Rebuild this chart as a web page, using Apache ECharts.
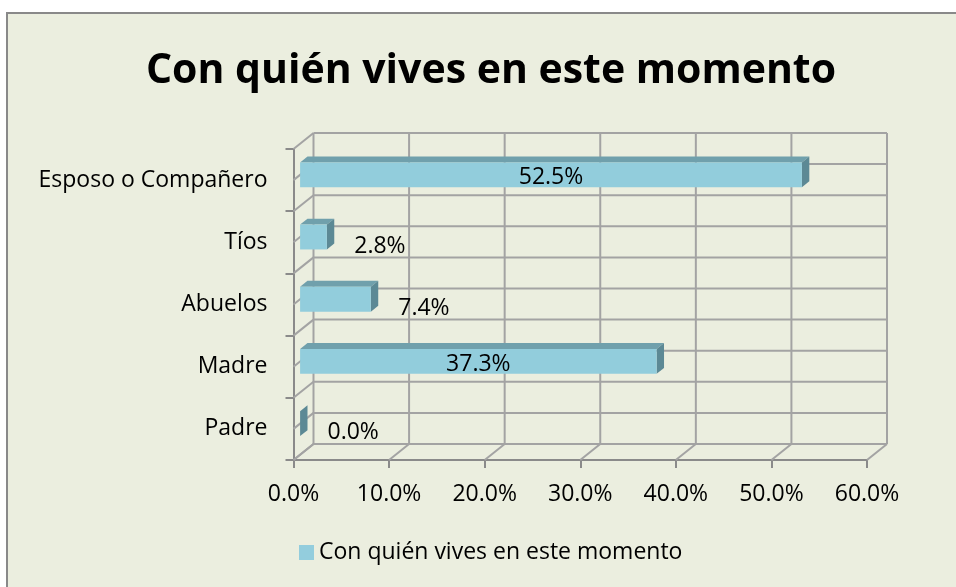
<!DOCTYPE html>
<html><head><meta charset="utf-8">
<script src="https://cdn.jsdelivr.net/npm/echarts@6/dist/echarts.min.js"></script>
<style>html,body{margin:0;padding:0;background:#fff}#c{width:956px;height:587px}</style>
</head><body><div id="c"></div>
<script>
const titleText = 'Con quién vives en este momento';
const seriesName = 'Con quién vives en este momento';
const categories = ['Esposo o Compañero', 'Tíos', 'Abuelos', 'Madre', 'Padre'];
const values = [52.5, 2.8, 7.4, 37.3, 0.0];
const valueTicks = [0, 10, 20, 30, 40, 50, 60];

const FONT = '"Open Sans", "Noto Sans", sans-serif';
const DEPTH = [20, -16];
const F1 = 0.33, F2 = 0.7;
const GRID_COLOR = '#A3A3A3';
const AXIS_COLOR = '#8A8A8A';

const chart = echarts.init(document.getElementById('c'), null, {renderer: 'canvas'});

function frameRender(params, api) {
  const band = api.size([0, 1])[1];
  const topY = api.coord([0, 0])[1] - band / 2;
  const x0 = api.coord([valueTicks[0], 0])[0];
  const x1 = api.coord([valueTicks[valueTicks.length - 1], 0])[0];
  const n = categories.length * 2;
  const children = [];
  const ls = {stroke: GRID_COLOR, lineWidth: 2};
  for (let k = 0; k <= n; k++) {
    const y = topY + k * band / 2;
    children.push({type: 'line', shape: {x1: x0 + DEPTH[0], y1: y + DEPTH[1], x2: x1 + DEPTH[0], y2: y + DEPTH[1]}, style: ls});
    children.push({type: 'line', shape: {x1: x0, y1: y, x2: x0 + DEPTH[0], y2: y + DEPTH[1]}, style: ls});
  }
  const botY = topY + n * band / 2;
  valueTicks.forEach(t => {
    const x = api.coord([t, 0])[0];
    children.push({type: 'line', shape: {x1: x + DEPTH[0], y1: topY + DEPTH[1], x2: x + DEPTH[0], y2: botY + DEPTH[1]}, style: ls});
    children.push({type: 'line', shape: {x1: x, y1: botY, x2: x + DEPTH[0], y2: botY + DEPTH[1]}, style: ls});
  });
  return {type: 'group', children};
}

function barRender(params, api) {
  const v = api.value(0);
  const cat = api.value(1);
  const c0 = api.coord([0, cat]);
  const c1 = api.coord([v, cat]);
  const band = api.size([0, 1])[1];
  const h = band * 0.4;
  const xl = c0[0] + DEPTH[0] * F1;
  const xr = c1[0] + DEPTH[0] * F1;
  const yc = c0[1] + DEPTH[1] * F1;
  const yt = yc - h / 2, yb = yc + h / 2;
  const dx = DEPTH[0] * (F2 - F1), dy = DEPTH[1] * (F2 - F1);
  const children = [
    {type: 'polygon', shape: {points: [[xl, yt], [xr, yt], [xr + dx, yt + dy], [xl + dx, yt + dy]]}, style: {fill: '#70A0AC'}},
    {type: 'polygon', shape: {points: [[xr, yt], [xr + dx, yt + dy], [xr + dx, yb + dy], [xr, yb]]}, style: {fill: '#5C8995'}},
    {type: 'rect', shape: {x: xl, y: yt, width: xr - xl, height: h}, style: {fill: '#92CDDC'}}
  ];
  const label = v.toFixed(1) + '%';
  if (v > 20) {
    children.push({type: 'text', style: {x: (xl + xr) / 2, y: yc + 3, text: label, fill: '#000', font: '23px ' + FONT, textAlign: 'center', textVerticalAlign: 'middle'}});
  } else {
    children.push({type: 'text', style: {x: xr + dx + 20, y: c0[1] + 4, text: label, fill: '#000', font: '23px ' + FONT, textAlign: 'left', textVerticalAlign: 'middle'}});
  }
  return {type: 'group', children};
}

chart.setOption({
  backgroundColor: '#fff',
  animation: false,
  textStyle: {fontFamily: FONT},
  graphic: [{type: 'rect', z: -10, shape: {x: 7, y: 13, width: 960, height: 600}, style: {fill: '#EBEEDF', stroke: '#898989', lineWidth: 2}}],
  title: {text: titleText, left: 486, top: 46, textAlign: 'center',
    textStyle: {fontFamily: FONT, fontWeight: 'bold', fontSize: 41, color: '#000'}},
  legend: {data: [seriesName], left: 299, top: 541, padding: 0, icon: 'rect', itemWidth: 15, itemHeight: 15,
    textStyle: {fontFamily: FONT, fontSize: 23, color: '#000'}},
  grid: {left: 293.5, right: 89, top: 149, bottom: 127, containLabel: false},
  xAxis: {type: 'value', min: valueTicks[0], max: valueTicks[valueTicks.length - 1], interval: 10,
    axisLine: {show: true, lineStyle: {color: AXIS_COLOR, width: 2}},
    axisTick: {show: true, length: 8, lineStyle: {color: AXIS_COLOR, width: 2}},
    splitLine: {show: false},
    axisLabel: {margin: 23, fontSize: 23, fontFamily: FONT, color: '#000', formatter: v => v.toFixed(1) + '%'}},
  yAxis: {type: 'category', data: categories, inverse: true,
    axisLine: {show: true, lineStyle: {color: AXIS_COLOR, width: 2}},
    axisTick: {show: true, length: 8, lineStyle: {color: AXIS_COLOR, width: 2}},
    axisLabel: {margin: 26, fontSize: 23, fontFamily: FONT, color: '#000', padding: [6, 0, 0, 0]}},
  series: [
    {type: 'custom', name: 'frame', silent: true, renderItem: frameRender, data: [[0, 0]], z: 1},
    {type: 'custom', name: seriesName, renderItem: barRender, itemStyle: {color: '#93CDDD'},
      encode: {x: 0, y: 1}, z: 5,
      data: values.map((v, i) => [v, i])}
  ]
});
</script></body></html>
